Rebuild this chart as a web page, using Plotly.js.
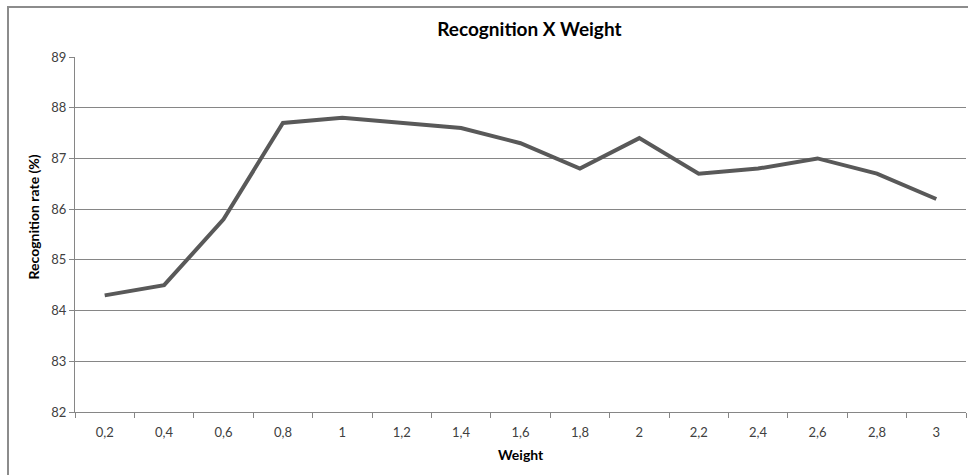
<!DOCTYPE html>
<html>
<head>
<meta charset="utf-8">
<script src="https://cdn.plot.ly/plotly-3.0.1.min.js"></script>
<style>html,body{margin:0;padding:0;background:#fff;}#chart{width:968px;height:475px;}</style>
</head>
<body>
<div id="chart"></div>
<script>
var weights = ["0,2","0,4","0,6","0,8","1","1,2","1,4","1,6","1,8","2","2,2","2,4","2,6","2,8","3"];
var recognitionRate = [84.3,84.5,85.8,87.7,87.8,87.7,87.6,87.3,86.8,87.4,86.7,86.8,87.0,86.7,86.2];
var yTicks = [82,83,84,85,86,87,88,89];

var FONT = "Lato, 'Open Sans', sans-serif";
var trace = {
  x: weights,
  y: recognitionRate,
  type: "scatter",
  mode: "lines",
  line: {color: "#595959", width: 4},
  hoverinfo: "skip"
};
var layout = {
  width: 968, height: 475,
  margin: {l: 75, r: 2, t: 57, b: 63},
  paper_bgcolor: "#ffffff",
  plot_bgcolor: "#ffffff",
  showlegend: false,
  font: {family: FONT, color: "#404040", size: 13},
  title: {text: "<b>Recognition X Weight</b>", font: {family: FONT, size: 19, color: "#000"},
          x: 0.51, xanchor: "center", xref: "paper", y: 1 - 29/475, yanchor: "middle"},
  xaxis: {
    type: "category",
    range: [-0.5, weights.length - 0.5],
    tickson: "boundaries",
    ticks: "outside", ticklen: 5, tickcolor: "#868686",
    ticklabelstandoff: 8,
    showline: true, linecolor: "#868686", linewidth: 1,
    showgrid: false, zeroline: false,
    tickfont: {family: FONT, size: 13, color: "#404040"}
  },
  yaxis: {
    range: [82, 89],
    tickvals: yTicks,
    ticktext: yTicks.map(String),
    ticks: "outside", ticklen: 5, tickcolor: "#868686",
    showline: true, linecolor: "#868686", linewidth: 1,
    showgrid: true, gridcolor: "#868686", gridwidth: 1,
    zeroline: false,
    tickfont: {family: FONT, size: 13, color: "#404040"}
  },
  annotations: [
    {text: "<b>Recognition rate (%)</b>", xref: "paper", yref: "paper", x: -0.0455, y: (412-217)/355,
     xanchor: "center", yanchor: "middle", textangle: -90, showarrow: false,
     font: {family: FONT, size: 14, color: "#000"}},
    {text: "<b>Weight</b>", xref: "paper", yref: "paper", x: (521-75)/891, y: -(454-412)/355,
     xanchor: "center", yanchor: "middle", showarrow: false,
     font: {family: FONT, size: 14, color: "#000"}}
  ],
  shapes: [
    {type: "line", xref: "paper", yref: "paper", x0: -67/891, x1: 1.01, y0: 1 + 50/355, y1: 1 + 50/355,
     line: {color: "#8c8c8c", width: 2}, layer: "above"},
    {type: "line", xref: "paper", yref: "paper", x0: -67/891, x1: -67/891, y0: -0.2, y1: 1 + 51/355,
     line: {color: "#8c8c8c", width: 2}, layer: "above"}
  ]
};
Plotly.newPlot("chart", [trace], layout, {displayModeBar: false, staticPlot: true});
</script>
</body>
</html>
